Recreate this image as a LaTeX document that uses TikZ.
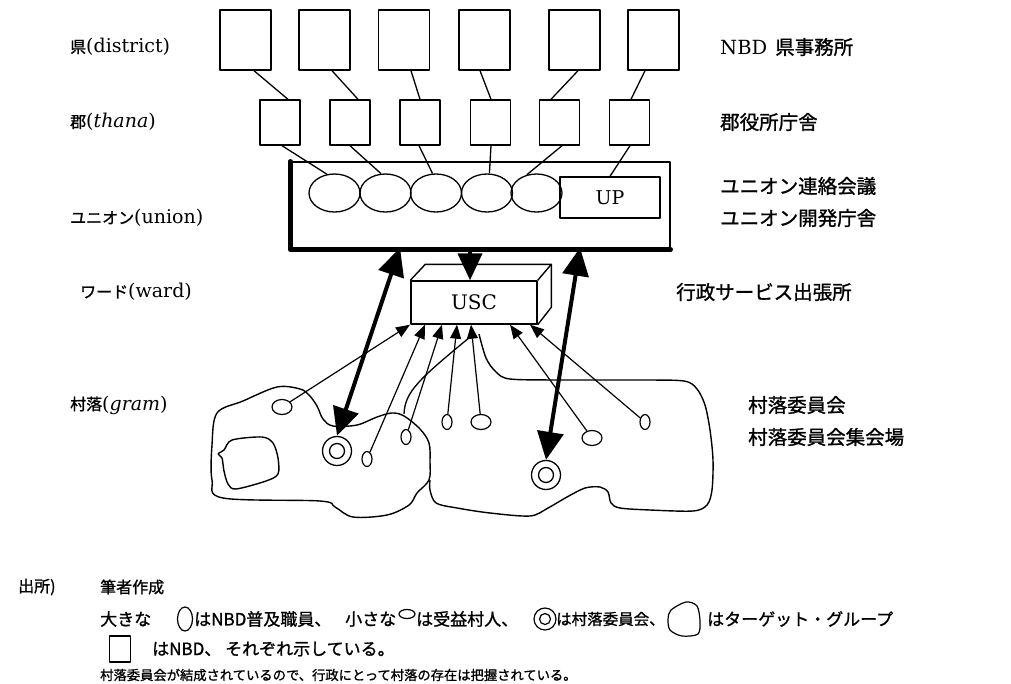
\documentclass[tikz,border=0pt]{standalone}
\usepackage{fontspec}
\setmainfont{DejaVu Serif}
\newfontfamily\cjk[FakeBold=1.2]{Noto Sans CJK JP}
\usetikzlibrary{arrows.meta,shapes.geometric}
\tikzset{
  nbdbig/.style={draw,line width=1.4pt,minimum width=51pt,minimum height=60pt,inner sep=0pt},
  nbdsmall/.style={draw,line width=1.4pt,minimum width=40pt,minimum height=45pt,inner sep=0pt},
  unionbox/.style={draw,line width=1.4pt,minimum width=380pt,minimum height=86pt,inner sep=0pt},
  upbox/.style={draw,line width=1.4pt,minimum width=100pt,minimum height=41pt,inner sep=0pt,font=\fontsize{19}{19}\selectfont},
  uscbox/.style={draw,line width=1.4pt,minimum width=126pt,minimum height=43pt,inner sep=0pt,font=\fontsize{20}{20}\selectfont},
  staff/.style={draw,ellipse,line width=1.3pt,minimum width=51pt,minimum height=38pt,inner sep=0pt},
  villager/.style={draw,ellipse,line width=1.2pt,inner sep=0pt},
  vh/.style={villager,minimum width=20pt,minimum height=15pt},
  vv/.style={villager,minimum width=10pt,minimum height=15pt},
  comm/.style={draw,circle,line width=1.3pt,minimum size=29pt,inner sep=0pt},
  conn/.style={line width=1.3pt},
  tarr/.style={line width=1.2pt,-{Triangle[length=14pt,width=11pt]}},
  bigarr/.style={line width=4pt,{Triangle[length=28pt,width=26pt]}-{Triangle[length=28pt,width=26pt]}},
  downarr/.style={line width=4pt,-{Triangle[length=27pt,width=24pt]}},
  outline/.style={line width=1.4pt},
  llab/.style={anchor=west,inner sep=0pt,font=\fontsize{19}{21}\selectfont},
  rlab/.style={anchor=west,inner sep=0pt,font=\cjk\fontsize{19.5}{21}\selectfont},
  note/.style={anchor=west,inner sep=0pt,font=\cjk\fontsize{17}{19}\selectfont},
  notehead/.style={anchor=west,inner sep=0pt,font=\cjk\fontsize{16}{18}\selectfont},
  notesmall/.style={anchor=west,inner sep=0pt,font=\cjk\fontsize{13.3}{15}\selectfont},
  legend/.style={draw,line width=1.2pt,inner sep=0pt},
}
\newcommand{\jl}[1]{{\cjk\fontsize{16}{16}\selectfont #1}}
\begin{document}
\begin{tikzpicture}[x=1pt,y=-1pt,line join=round]
\useasboundingbox (0,0) rectangle (1011,683);

% left labels
\node[llab] (ldist) at (70,47) {\jl{県}(district)};
\node[llab] (lthana) at (70,122) {\jl{郡}(\textit{thana})};
\node[llab] (lunion) at (70,218) {\jl{ユニオン}(union)};
\node[llab] (lward) at (80,292) {\jl{ワード}(ward)};
\node[llab] (lgram) at (70,405) {\jl{村落}(\textit{gram})};

% right labels
\node[rlab] (rdist) at (720,47) {{\rmfamily\mdseries NBD}\hspace{8pt}県事務所};
\node[rlab] (rthana) at (720,122) {郡役所庁舎};
\node[rlab] (runion1) at (720,186) {ユニオン連絡会議};
\node[rlab] (runion2) at (720,218) {ユニオン開発庁舎};
\node[rlab] (rward) at (676,292) {行政サービス出張所};
\node[rlab] (rgram1) at (748,405) {村落委員会};
\node[rlab] (rgram2) at (748,437) {村落委員会集会場};

% district boxes
\node[nbdbig] (d1) at (245.5,40) {};
\node[nbdbig] (d2) at (324.5,40) {};
\node[nbdbig] (d3) at (404,40) {};
\node[nbdbig] (d4) at (484.5,40) {};
\node[nbdbig] (d5) at (574.5,40) {};
\node[nbdbig] (d6) at (653.5,40) {};
% thana boxes
\node[nbdsmall] (t1) at (280,122.5) {};
\node[nbdsmall] (t2) at (350,122.5) {};
\node[nbdsmall] (t3) at (420,122.5) {};
\node[nbdsmall] (t4) at (490.5,122.5) {};
\node[nbdsmall] (t5) at (559.5,122.5) {};
\node[nbdsmall] (t6) at (629.5,122.5) {};

\draw[conn] ([xshift=8.5pt]d1.south) -- ([xshift=8pt]t1.north);
\draw[conn] ([xshift=7.5pt]d2.south) -- ([xshift=8pt]t2.north);
\draw[conn] ([xshift=7pt]d3.south) -- ([xshift=0pt]t3.north);
\draw[conn] ([xshift=-4.5pt]d4.south) -- ([xshift=0.5pt]t4.north);
\draw[conn] ([xshift=3.5pt]d5.south) -- ([xshift=-8.5pt]t5.north);
\draw[conn] ([xshift=-8.5pt]d6.south) -- ([xshift=1.5pt]t6.north);

% union
\node[unionbox] (union) at (480,205) {};
\draw[line width=4.5pt,line cap=round] ([xshift=1pt]union.north west) -- ([xshift=1pt,yshift=-1pt]union.south west) -- ([yshift=-1pt]union.south east);
\node[staff] (c1) at (334.5,193) {};
\node[staff] (c2) at (385.5,193) {};
\node[staff] (c3) at (436,193) {};
\node[staff] (c4) at (487,193) {};
\node[staff] (c5) at (536.5,193) {};
\node[upbox] (up) at (610,197.5) {UP};

\draw[conn] ([xshift=2pt]t1.south) -- (c1.112);
\draw[conn] ([xshift=0pt]t2.south) -- (c2.103);
\draw[conn] ([xshift=-1pt]t3.south) -- (c3.100);
\draw[conn] ([xshift=0.5pt]t4.south) -- (c4.83);
\draw[conn] ([xshift=2.5pt]t5.south) -- (c5.118);
\draw[conn] ([xshift=0.5pt]t6.south) -- (up.north);

% USC
\node[uscbox] (usc) at (474,302.5) {USC};
\draw[line width=1.4pt] (usc.north west) -- ++(15,-16) coordinate (uscb1) -- ++(126,0) coordinate (uscb2) -- (usc.north east);
\draw[line width=1.4pt] (uscb2) -- ++(0,43) coordinate (uscb3) -- (usc.south east);

% village outlines
\draw[outline] plot[smooth cycle,tension=0.55] coordinates {
 (217,413) (243,401) (277,387) (300,389) (309,395) (317,406) (323,419) (333,426)
 (357,425) (377,417) (392,413) (404,416) (420,429) (429,443) (430,462) (429,480)
 (417,493) (409,505) (387,515) (353,517) (335,507) (320,501) (223,498) (212,480) (212,445)};
\coordinate (rv0) at (479,334);
\draw[outline] plot[smooth,tension=0.5] coordinates {
 (rv0) (486,358) (496,372) (510,379) (560,380) (640,380) (684,381) (697,389) (705,405)
 (710,430) (713,460) (712,490) (707,505) (693,511) (650,510) (620,508) (611,503)
 (608,492) (600,487) (585,488) (567,497) (548,508) (530,516) (490,513) (457,508)
 (436,503) (430,490) (430,480)};
% target group
\draw[outline] plot[smooth cycle,tension=0.5] coordinates {
 (232,440) (262,437) (273,443) (278,458) (278,474) (266,481) (236,489) (228,484)
 (224,471) (222,458) (218,454) (224,450)};

% committees and villagers
\node[comm] (dc1) at (337,451) {};
\draw[conn] (dc1.center) circle[radius=7.5];
\node[comm] (dc2) at (546,475) {};
\draw[conn] (dc2.center) circle[radius=7.5];
\node[vh] (e1) at (282,407) {};
\node[vv] (e5) at (367,459) {};
\node[vv] (e4) at (406,437) {};
\node[vv] (e2) at (447,422) {};
\node[vh] (e3) at (481,422) {};
\node[vh] (e6) at (592,438) {};
\node[vv] (e7) at (645,422) {};

\draw[tarr] (e1) -- ([xshift=-64pt]usc.south);
\draw[tarr] (e5) -- ([xshift=-49pt]usc.south);
\draw[tarr] (e4) -- ([xshift=-32pt]usc.south);
\draw[tarr] (e2) -- ([xshift=-17pt]usc.south);
\draw[tarr] (e3) -- ([xshift=-3pt]usc.south);
\draw[tarr] (e6) -- ([xshift=36pt]usc.south);
\draw[tarr] (e7) -- ([xshift=56pt]usc.south);
\coordinate (k1) at (404,414);
\draw[conn] (k1) .. controls (405,392) and (418,380) .. ([xshift=-6pt,yshift=-14pt]usc.south);

% thick arrows
\draw[downarr] ([xshift=-10pt,yshift=1pt]union.south) -- ([xshift=-4pt]usc.north);
\draw[bigarr] ([xshift=-80pt,yshift=1pt]union.south) -- (dc1.north);
\draw[bigarr] ([xshift=100pt,yshift=1pt]union.south) -- (dc2.north);

% notes
\node[notehead] (src) at (18,587) {出所)};
\node[notehead] (auth) at (100,587) {筆者作成};
\node[note] (n1) at (100,619) {大きな};
\node[legend,ellipse,minimum width=15pt,minimum height=24pt] (sym1) at (185,619) {};
\node[note] (n2) at (194,619) {はNBD普及職員、};
\node[note] (n3) at (345,619) {小さな};
\node[legend,ellipse,minimum width=16pt,minimum height=9pt] (sym2) at (407,614) {};
\node[note] (n4) at (416,619) {は受益村人、};
\node[legend,circle,minimum size=22pt] (sym3) at (545,619) {};
\draw[line width=1.2pt] (sym3.center) circle[radius=5.5];
\node[note,font=\cjk\fontsize{15.5}{17}\selectfont] (n5) at (556,619) {は村落委員会、};
\draw[line width=1.2pt] plot[smooth cycle,tension=0.5] coordinates {
 (671,610) (686,602) (697,606) (700,621) (698,634) (682,636) (670,630) (668,619)};
\node[note] (n6) at (707,619) {はターゲット・グループ};
\node[legend,minimum width=21pt,minimum height=26pt] (sym5) at (120,649) {};
\node[note] (n7) at (152,649) {はNBD、 それぞれ示している。};
\node[notesmall] (n8) at (100,675) {村落委員会が結成されているので、行政にとって村落の存在は把握されている。};
\end{tikzpicture}
\end{document}
